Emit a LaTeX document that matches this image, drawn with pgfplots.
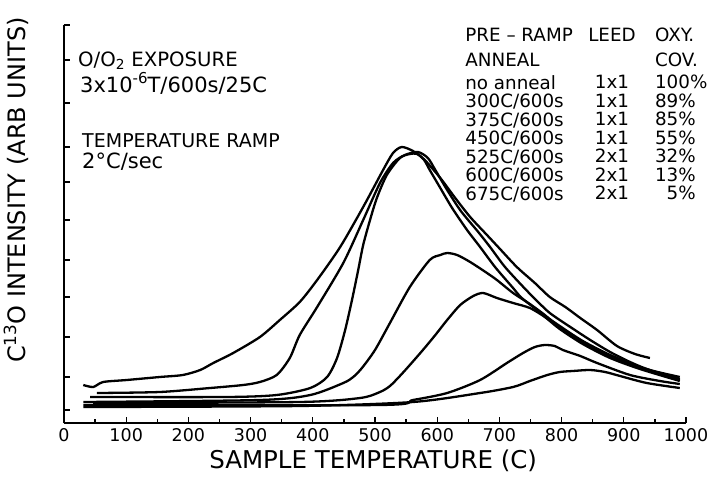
\documentclass[border=0pt]{standalone}
\usepackage{fontspec}
\setmainfont{DejaVu Sans}
\usepackage{pgfplots}
\pgfplotsset{compat=1.18}

% TPD spectra: C13O signal versus sample temperature for different pre-ramp anneals
\pgfplotstableread{
x y
31 38
47 36
63 41
101 43
154 46
191 48
219 53
240 60
272 70
315 86
347 103
379 121
407 143
444 176
481 216
513 253
529 270
543 276
561 272
580 263
605 245
629 225
653 206
680 188
701 174
728 156
757 140
781 126
806 116
830 105
857 93
889 77
918 69
942 65
}\noanneal

\pgfplotstableread{
x y
53 30
154 31
235 35
288 38
315 41
342 48
363 65
379 88
407 116
449 160
481 203
508 240
529 260
548 268
569 271
585 265
597 253
616 233
638 212
666 191
685 176
709 156
740 135
759 123
781 110
814 96
846 83
878 71
910 61
942 53
990 46
}\annealA

\pgfplotstableread{
x y
42 26
262 26
342 28
396 35
423 46
439 65
452 93
463 123
473 153
481 178
492 203
503 225
519 248
540 265
556 269
568 269
579 263
588 253
605 235
624 215
648 193
669 176
693 156
722 135
736 125
765 111
797 97
834 82
878 68
926 56
990 44
}\annealB

\pgfplotstableread{
x y
31 21
315 23
396 28
449 40
465 46
479 55
500 73
524 100
556 136
588 163
605 168
616 170
632 168
653 161
680 150
696 143
722 130
749 119
773 108
797 95
834 80
878 66
926 55
990 43
}\annealC

\pgfplotstableread{
x y
47 20
379 21
476 25
508 31
524 37
540 47
556 58
577 73
597 88
616 103
637 118
658 127
674 130
696 125
722 120
749 115
773 106
797 94
834 79
878 65
926 54
990 42
}\annealD

\pgfplotstableread{
x y
31 18
508 18
561 23
616 30
669 43
712 60
738 70
757 76
773 78
789 77
802 73
830 67
857 60
910 48
958 42
990 39
}\annealE

\pgfplotstableread{
x y
31 16
379 17
561 21
669 30
722 36
749 42
777 48
797 51
818 52
846 53
870 51
894 47
937 40
990 35
}\annealF

\begin{document}
\begin{tikzpicture}[
  tpd/.style={black, line width=2.3pt, smooth, tension=0.45, mark=none},
  note/.style={anchor=west, inner sep=0pt, font=\fontsize{19}{22}\selectfont},
  tab/.style={inner sep=0pt, font=\fontsize{18.3}{18.5}\selectfont},
]
\begin{axis}[
  at={(0,0)}, anchor=south west,
  scale only axis, width=622pt, height=398pt,
  xmin=0, xmax=1000, ymin=0, ymax=398,
  axis lines=left,
  axis line style={-, line width=2pt},
  xtick={0,100,...,1000},
  xticklabels={0,100,200,300,400,500,600,700,800,900,1000},
  minor xtick={50,150,...,950},
  ytick={13,46,86,126,163,203,241,276,320,363,398},
  yticklabels={},
  tick align=inside,
  major tick length=6pt, minor tick length=4pt,
  every tick/.style={black, line width=1.3pt},
  xticklabel style={font=\fontsize{17.5}{20}\selectfont, yshift=-2pt},
  xlabel={SAMPLE TEMPERATURE (C)},
  ylabel={C\textsuperscript{13}O INTENSITY (ARB UNITS)},
  xlabel style={font=\fontsize{24.5}{28}\selectfont, at={(axis description cs:0.497,-0.095)}, anchor=center},
  ylabel style={font=\fontsize{24}{28}\selectfont, at={(axis description cs:-0.077,0.585)}, anchor=center},
  clip=false,
]
\addplot[tpd] table {\noanneal};
\addplot[tpd] table {\annealA};
\addplot[tpd] table {\annealB};
\addplot[tpd] table {\annealC};
\addplot[tpd] table {\annealD};
\addplot[tpd] table {\annealE};
\addplot[tpd] table {\annealF};

% exposure and ramp conditions
\node[note, font=\fontsize{19.7}{22}\selectfont] at (axis cs:22.5,362) {O/O\textsubscript{2} EXPOSURE};
\node[note, font=\fontsize{21}{24}\selectfont] at (axis cs:25.7,340)
  {3x10\raisebox{0.42em}{\fontsize{15}{15}\selectfont -6}T/600s/25C};
\node[note] at (axis cs:29,282) {TEMPERATURE RAMP};
\node[note, font=\fontsize{21}{24}\selectfont] at (axis cs:29,261) {2°C/sec};

% anneal table: headers
\node[tab, anchor=west] at (axis cs:645,388) {PRE – RAMP};
\node[tab, anchor=west] at (axis cs:645,363) {ANNEAL};
\node[tab, anchor=center] at (axis cs:881,388) {LEED};
\node[tab, anchor=west] at (axis cs:950,388) {OXY.};
\node[tab, anchor=west] at (axis cs:950,363) {COV.};
% anneal table: rows
\node[tab, anchor=north west, align=left] at (axis cs:645,348)
  {no anneal\\300C/600s\\375C/600s\\450C/600s\\525C/600s\\600C/600s\\675C/600s};
\node[tab, anchor=north, align=center] at (axis cs:881,348)
  {1x1\\1x1\\1x1\\1x1\\2x1\\2x1\\2x1};
\node[tab, anchor=north west, align=left] at (axis cs:950,348)
  {100\%\\89\%\\85\%\\55\%\\32\%\\13\%\\\phantom{1}5\%};
\end{axis}
\pgfresetboundingbox
\path[use as bounding box] (-64pt,-54pt) rectangle (648pt,423pt);
\end{tikzpicture}
\end{document}
